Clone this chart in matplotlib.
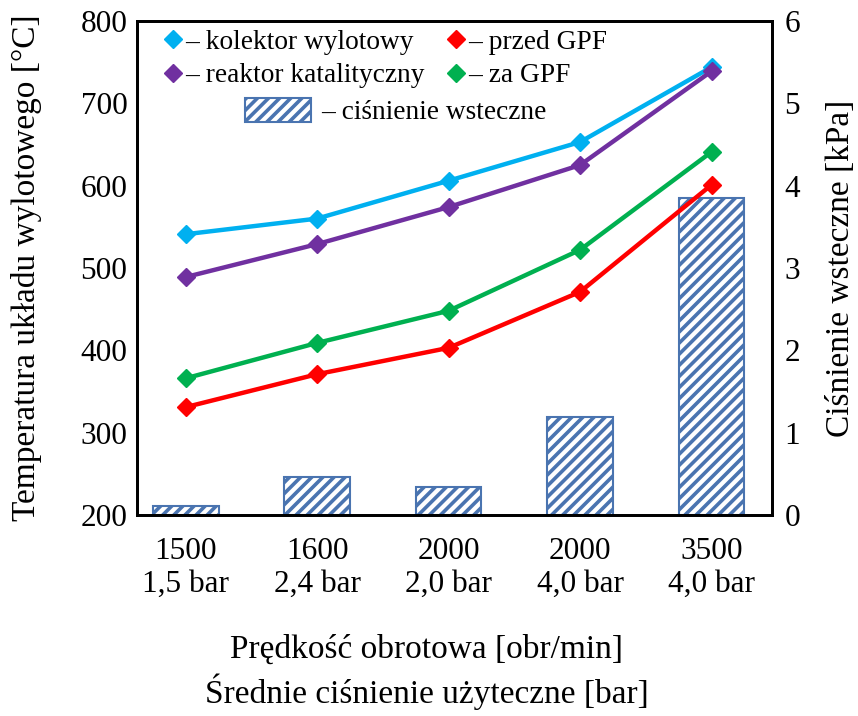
import matplotlib
matplotlib.use('Agg')
import matplotlib.pyplot as plt
from matplotlib.lines import Line2D
from matplotlib.patches import Patch


rpm = ['1500', '1600', '2000', '2000', '3500']
bmep = ['1,5 bar', '2,4 bar', '2,0 bar', '4,0 bar', '4,0 bar']

# temperatures [degC]
t_kolektor = [541, 560, 606, 653, 744]
t_reaktor = [489, 529, 574, 625, 739]
t_przed = [331, 371, 403, 471, 601]
t_za = [366, 409, 448, 522, 641]

# back pressure [kPa]
p_back = [0.11, 0.46, 0.34, 1.19, 3.85]

c_kolektor = '#00B0F0'
c_reaktor = '#7030A0'
c_przed = '#FF0000'
c_za = '#00B050'
c_bar = '#4A74B0'

plt.rcParams['font.family'] = ['Liberation Serif', 'DejaVu Serif']
plt.rcParams['hatch.linewidth'] = 2.6

fig = plt.figure(figsize=(8.58, 7.16), dpi=100)
ax = fig.add_axes([137/858, 1 - 515/716, 635/858, 494/716])
ax2 = ax.twinx()

x = list(range(len(rpm)))

bars = ax2.bar(x, p_back, width=0.5, facecolor='white', edgecolor=c_bar,
               hatch='///', linewidth=1.5)

lw = 3.2
ms = 9.5
ax.plot(x, t_kolektor, color=c_kolektor, lw=lw, marker='D', ms=ms)
ax.plot(x, t_reaktor, color=c_reaktor, lw=lw, marker='D', ms=ms)
ax.plot(x, t_przed, color=c_przed, lw=lw, marker='D', ms=ms)
ax.plot(x, t_za, color=c_za, lw=lw, marker='D', ms=ms)

# lines above the bars
ax.set_zorder(ax2.get_zorder() + 1)
ax.patch.set_visible(False)

ax.set_xlim(-0.37, 4.46)
ax.set_ylim(200, 800)
ax2.set_ylim(0, 6)
ax.set_yticks(range(200, 801, 100))
ax2.set_yticks(range(0, 7))
ax.set_xticks(x, labels=[f'{a}\n{b}' for a, b in zip(rpm, bmep)])

ax.tick_params(axis='both', length=0, labelsize=22.5)
ax.tick_params(axis='x', pad=16)
ax.tick_params(axis='y', pad=7)
ax2.tick_params(axis='y', length=0, labelsize=22.5, pad=9)
for lbl in ax.get_xticklabels():
    lbl.set_linespacing(1.15)

for a in (ax, ax2):
    for s in a.spines.values():
        s.set_linewidth(2.0)
        s.set_color('black')

ax.set_ylabel('Temperatura układu wylotowego [°C]', fontsize=24, labelpad=28)
ax2.set_ylabel('Ciśnienie wsteczne [kPa]', fontsize=24, labelpad=18)
ax.set_xlabel('Prędkość obrotowa [obr/min]\nŚrednie ciśnienie użyteczne [bar]',
              fontsize=24, labelpad=26, linespacing=1.3, x=0.456)

handles = [Line2D([], [], color=c, marker='D', ls='none', ms=ms)
           for c in (c_kolektor, c_reaktor, c_przed, c_za)]
labels = ['– kolektor wylotowy', '– reaktor katalityczny',
          '– przed GPF', '– za GPF']
leg1 = ax.legend(handles, labels, ncol=2, loc='upper left',
                 bbox_to_anchor=(0.042, 0.982), frameon=False, fontsize=19.7,
                 handlelength=0.7, handletextpad=0.08, columnspacing=0.8,
                 labelspacing=0.3, borderpad=0, borderaxespad=0)
ax.add_artist(leg1)

bar_handle = Patch(facecolor='white', edgecolor=c_bar, hatch='///', linewidth=1.5)
ax.legend([bar_handle], ['– ciśnienie wsteczne'], loc='upper left',
          bbox_to_anchor=(0.170, 0.845), frameon=False, fontsize=19.7,
          handlelength=2.4, handleheight=1.0, handletextpad=0.4,
          borderpad=0, borderaxespad=0)

fig.savefig('out.png', dpi=100)
